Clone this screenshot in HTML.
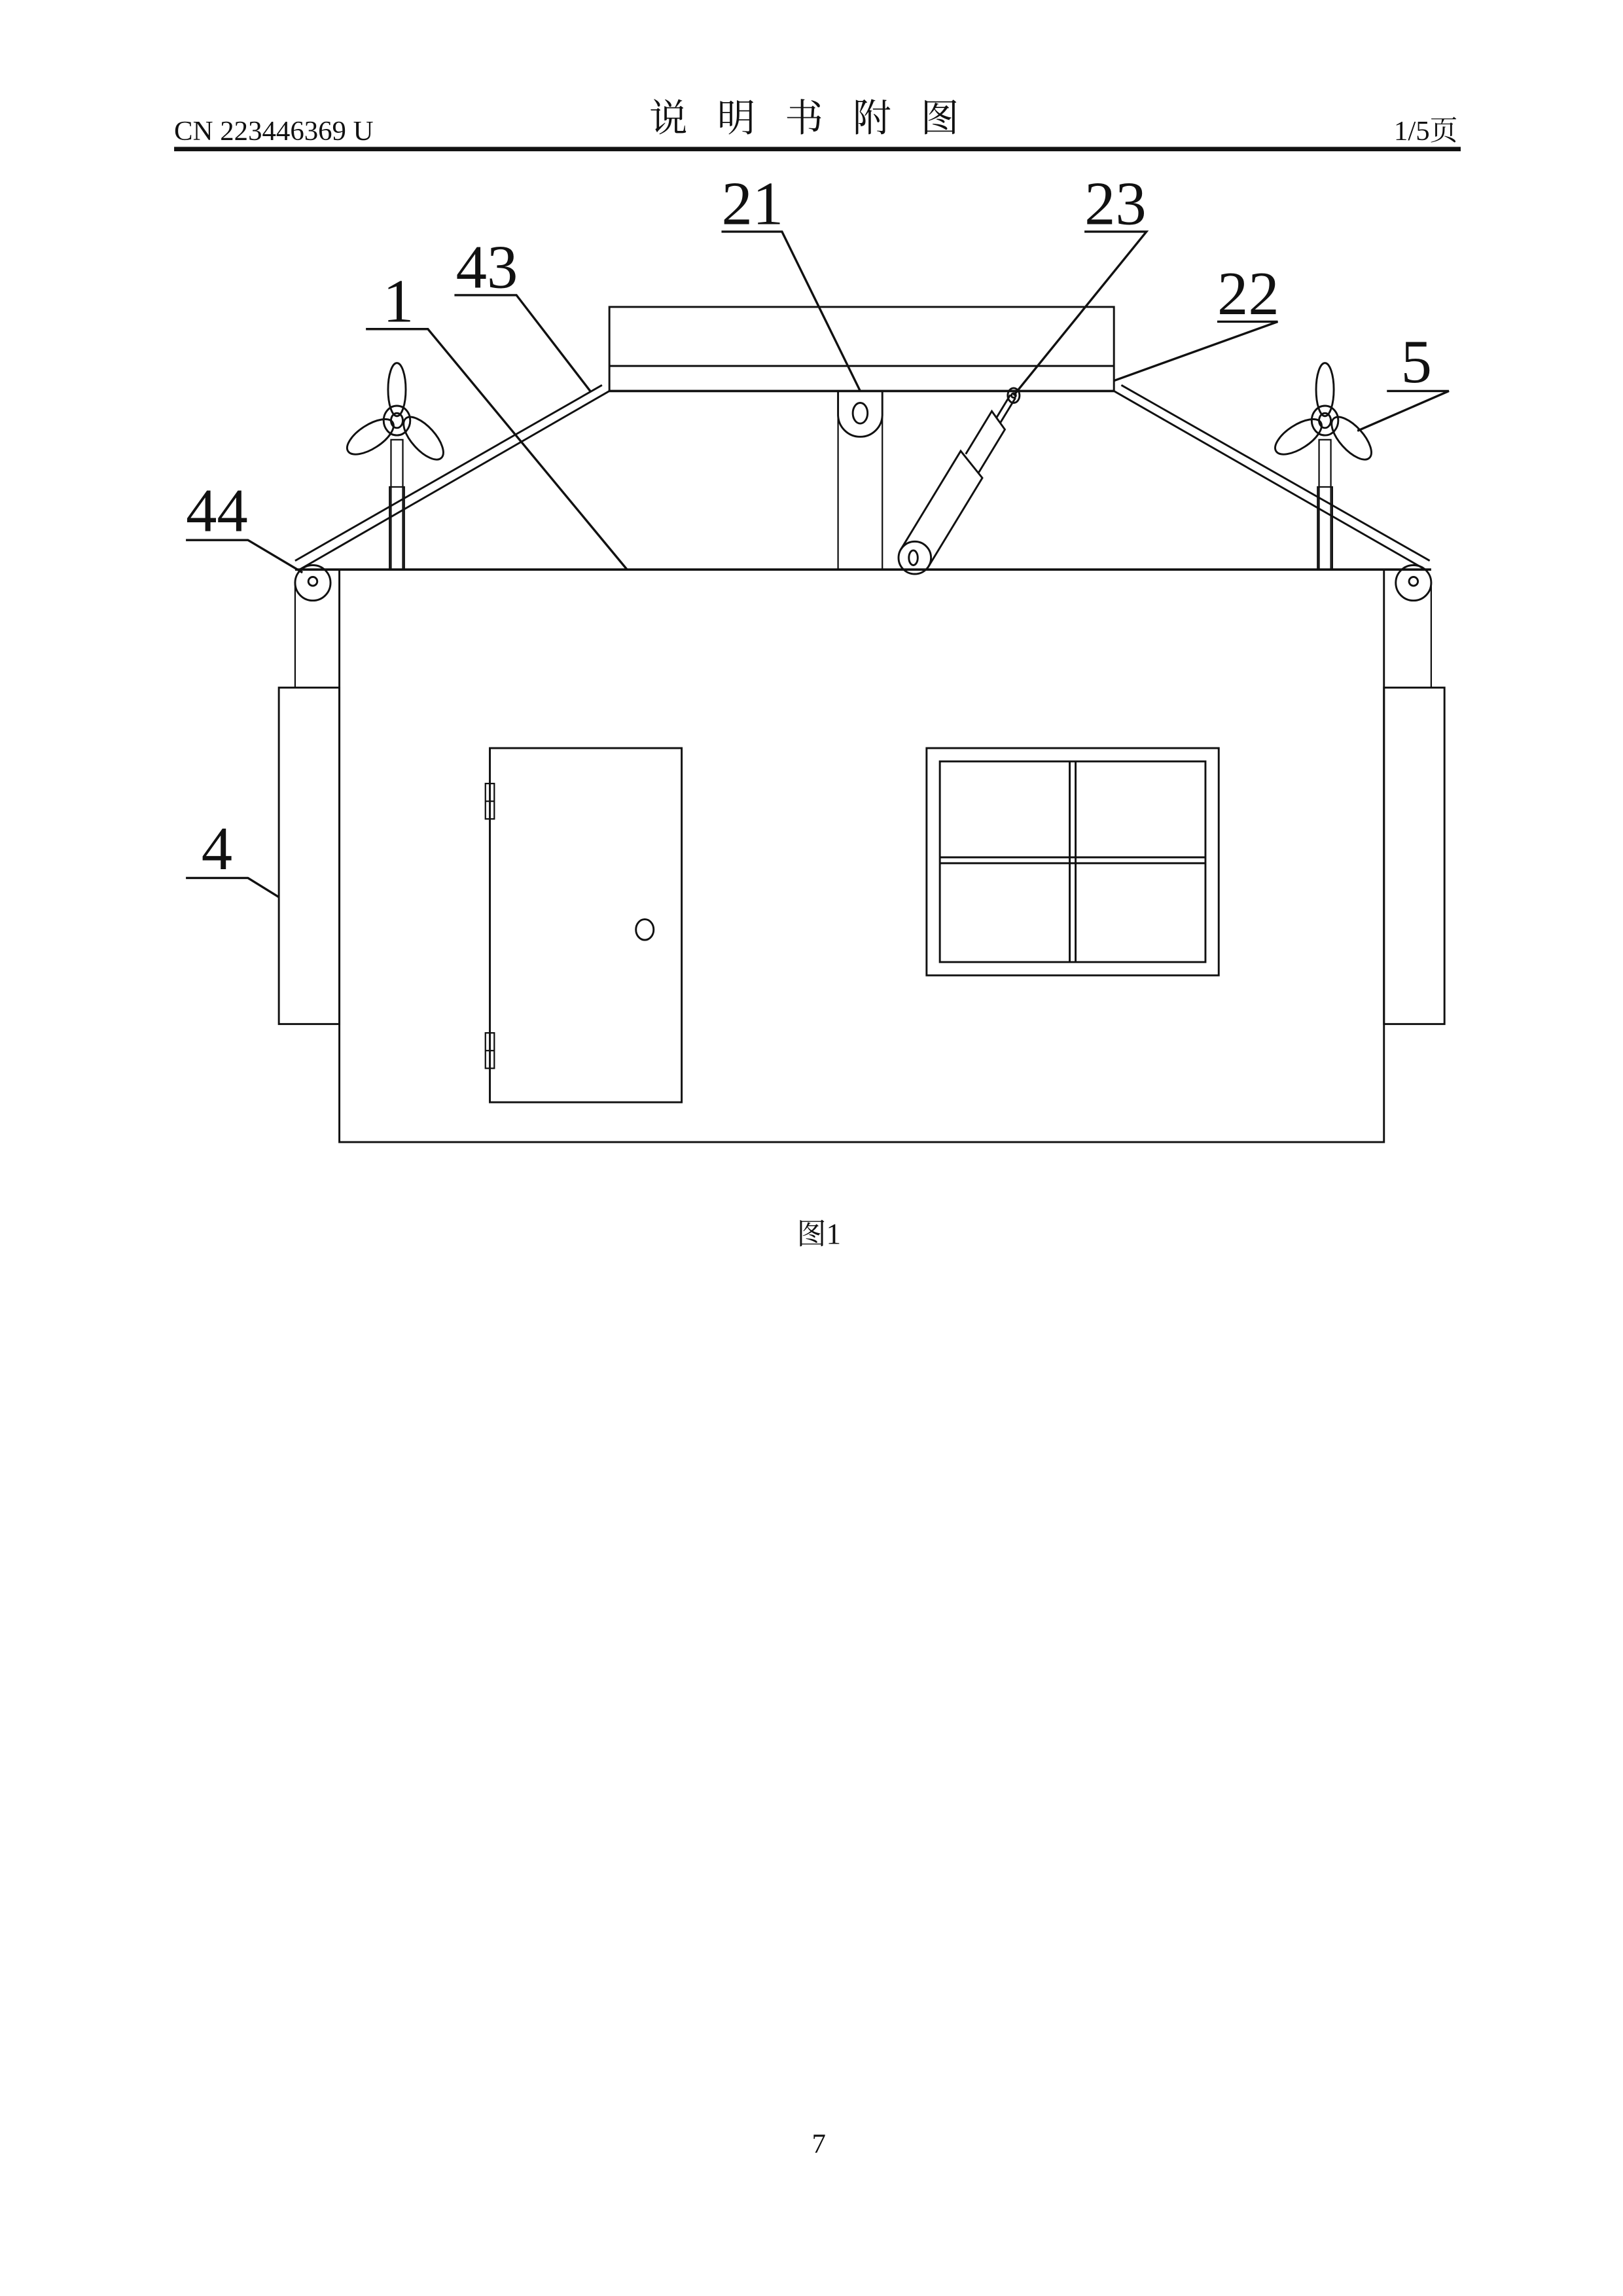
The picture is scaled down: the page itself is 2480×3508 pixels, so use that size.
<!DOCTYPE html>
<html><head><meta charset="utf-8"><style>
html,body{margin:0;padding:0;background:#fff}
svg{display:block}
text{font-family:"Liberation Serif","Noto Serif CJK SC",serif;fill:#111}
</style></head><body>
<svg width="2480" height="3508" viewBox="0 0 1100 1556" xmlns="http://www.w3.org/2000/svg">
<g stroke="#111" fill="none" stroke-width="1.3">
<line x1="118" y1="101" x2="990" y2="101" stroke-width="3"/>
<rect x="230" y="386" width="708" height="388"/>
<line x1="200" y1="386" x2="970" y2="386" stroke-width="1.6"/>
<rect x="413" y="208" width="342" height="57"/>
<line x1="413" y1="248" x2="755" y2="248"/>
<line x1="413" y1="265" x2="755" y2="265" stroke-width="1.6"/>
<line x1="568" y1="265" x2="568" y2="386" stroke-width="1"/>
<line x1="598" y1="265" x2="598" y2="386" stroke-width="1"/>
<path d="M568 265 L568 281 A15 15 0 0 0 598 281 L598 265"/>
<ellipse cx="583" cy="280" rx="5" ry="7"/>
<!-- cylinder 23 -->
<g transform="translate(620,378) rotate(31.3)">
<path d="M-11 0 L-11 -78 L11 -70 L11 0"/>
<path d="M-7 -78 L-7 -112 L7 -106 L7 -72"/>
<line x1="-2" y1="-128" x2="-2" y2="-110"/><line x1="2" y1="-128" x2="2" y2="-108"/>
</g>
<circle cx="620" cy="378" r="11"/>
<ellipse cx="619" cy="378" rx="3" ry="5"/>
<ellipse cx="687" cy="268" rx="4" ry="5"/>
<circle cx="687" cy="268" r="1.5"/>
<path d="M413 265 L203 386 M408 261 L200 380"/>
<path d="M755 265 L966 386 M760 261 L969 380"/>
<circle cx="212" cy="395" r="12"/><circle cx="212" cy="394" r="3"/>
<circle cx="958" cy="395" r="12"/><circle cx="958" cy="394" r="3"/>
<line x1="200" y1="395" x2="200" y2="466" stroke-width="1"/>
<line x1="970" y1="395" x2="970" y2="466" stroke-width="1"/>
<rect x="189" y="466" width="41" height="228"/>
<rect x="938" y="466" width="41" height="228"/>
<g id="fan">
<rect x="265" y="298" width="8" height="88" stroke-width="1"/>
<rect x="264" y="330" width="10" height="56" stroke-width="1"/>
<ellipse cx="269" cy="264" rx="6" ry="18"/>
<ellipse cx="269" cy="285" rx="9" ry="10"/>
<ellipse cx="269" cy="285" rx="4" ry="5"/>
<ellipse cx="251" cy="296" rx="18" ry="8" transform="rotate(-33 251 296)"/>
<ellipse cx="287" cy="297" rx="18" ry="8" transform="rotate(48 287 297)"/>
</g>
<use href="#fan" transform="translate(629,0)"/>
<rect x="332" y="507" width="130" height="240"/>
<rect x="329" y="531" width="6" height="24" stroke-width="1"/>
<line x1="329" y1="543" x2="335" y2="543" stroke-width="1"/>
<rect x="329" y="700" width="6" height="24" stroke-width="1"/>
<line x1="329" y1="712" x2="335" y2="712" stroke-width="1"/>
<ellipse cx="437" cy="630" rx="6" ry="7"/>
<rect x="628" y="507" width="198" height="154"/>
<rect x="637" y="516" width="180" height="136"/>
<line x1="637" y1="581" x2="817" y2="581"/><line x1="637" y1="585" x2="817" y2="585"/>
<line x1="725" y1="516" x2="725" y2="652"/><line x1="729" y1="516" x2="729" y2="652"/>
<path d="M489 157 H530 L583 265" stroke-width="1.5"/>
<path d="M735 157 H777 L687 268" stroke-width="1.5"/>
<path d="M308 200 H350 L400 265" stroke-width="1.5"/>
<path d="M248 223 H290 L425 386" stroke-width="1.5"/>
<path d="M825 218 H866 L755 258" stroke-width="1.5"/>
<path d="M940 265 H982 L920 292" stroke-width="1.5"/>
<path d="M126 366 H168 L205 388" stroke-width="1.5"/>
<path d="M126 595 H168 L189 608" stroke-width="1.5"/>
</g>
<text x="118" y="95" font-size="19">CN 223446369 U</text>
<text x="555" y="89" font-size="26" text-anchor="middle" letter-spacing="20" style="font-family:'Noto Serif CJK SC',serif">说明书附图</text>
<text x="988" y="95" font-size="19" text-anchor="end">1/5页</text>
<g font-size="42">
<text x="510" y="152" text-anchor="middle">21</text>
<text x="756" y="152" text-anchor="middle">23</text>
<text x="330" y="195" text-anchor="middle">43</text>
<text x="270" y="218" text-anchor="middle">1</text>
<text x="846" y="213" text-anchor="middle">22</text>
<text x="960" y="259" text-anchor="middle">5</text>
<text x="147" y="360" text-anchor="middle">44</text>
<text x="147" y="589" text-anchor="middle">4</text>
</g>
<text x="555" y="843" font-size="20" text-anchor="middle">图1</text>
<text x="555" y="1459" font-size="19" text-anchor="middle">7</text>
</svg>
</body></html>
